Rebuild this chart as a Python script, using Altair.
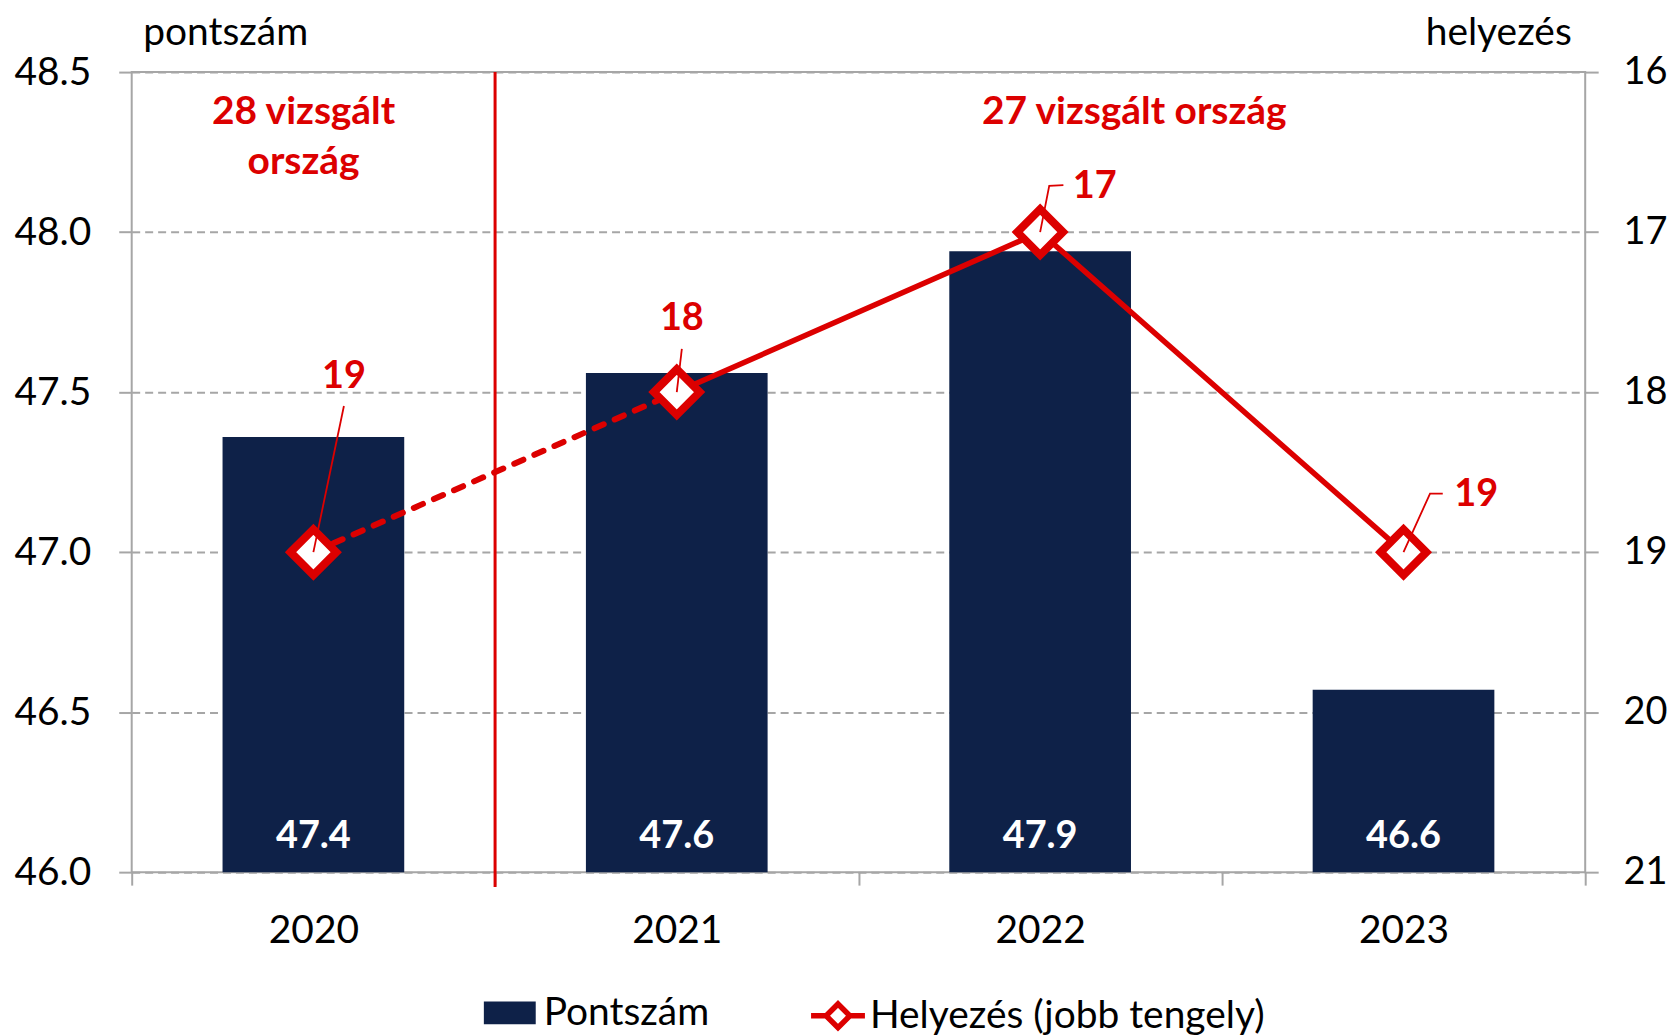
import altair as alt
import pandas as pd

# ---- data ----
years = [2020, 2021, 2022, 2023]
scores = [47.36, 47.56, 47.94, 46.57]
ranks = [19, 18, 17, 19]
bar_series = "Pontszám"
line_series = "Helyezés (jobb tengely)"
left_title = "pontszám"
right_title = "helyezés"

group_labels = ["28 vizsgált\nország", "27 vizsgált ország"]
group_label_x = [2019.973, 2022.259]
group_label_y = [48.338, 48.338]
divider_year = 2020.5

rank_label_x = [2020.084, 2021.014, 2022.15, 2023.20]
rank_label_y = [17.907, 17.542, 16.72, 18.644]

leader_id = [0, 0, 1, 1, 2, 2, 2, 3, 3, 3]
leader_x = [2020, 2020.084, 2021, 2021.014, 2022, 2022.025, 2022.064, 2023, 2023.073, 2023.108]
leader_y = [19, 18.087, 18, 17.73, 17, 16.711, 16.707, 19, 18.634, 18.634]

score_min, score_max, score_step = 46.0, 48.5, 0.5
rank_min, rank_max = 16, 21

# ---- styling ----
W, H = 1457, 802
FONT = "Lato"
NAVY = "#0E2148"
RED = "#DC0000"
GRAY = "#A6A6A6"
FS = 39
FSB = 38

df_bar = pd.DataFrame({"year": years, "score": scores, "series": bar_series})
df_dash = pd.DataFrame({"year": years[:2], "rank": ranks[:2]})
df_solid = pd.DataFrame({"year": years[1:], "rank": ranks[1:]})
df_pts = pd.DataFrame({"year": years, "rank": ranks, "series": line_series})
df_rlab = pd.DataFrame({"x": rank_label_x, "y": rank_label_y, "rank": ranks})
df_lead = pd.DataFrame({"id": leader_id, "x": leader_x, "y": leader_y,
                        "idx": list(range(len(leader_x)))})
df_grp = pd.DataFrame({"x": group_label_x, "y": group_label_y, "label": group_labels})
df_div = pd.DataFrame({"x": [divider_year]})

boundaries = [y - 0.5 for y in years] + [years[-1] + 0.5]
n_left = int(round((score_max - score_min) / score_step)) + 1
left_values = [score_min + score_step * i for i in range(n_left)]
right_values = list(range(rank_min, rank_max + 1))


def xs():
    return alt.Scale(domain=[boundaries[0], boundaries[-1]], nice=False, zero=False)


def ls():
    return alt.Scale(domain=[score_min, score_max], nice=False, zero=False)


def rs():
    return alt.Scale(domain=[rank_min, rank_max], reverse=True, nice=False, zero=False)


def x_axis():
    return alt.Axis(
        orient="bottom",
        values=boundaries,
        labelExpr=f"datum.value < {years[-1]} ? toString(datum.value + 0.5) : ''",
        labelOffset=W / len(years) / 2,
        tickSize=13, tickWidth=2, tickColor=GRAY, domain=False, grid=False,
        labelFont=FONT, labelFontSize=FS, labelColor="black",
        labelBaseline="alphabetic", labelPadding=58,
        labelFlush=False, labelOverlap=False, labelBound=False, title="",
    )


left_axis = alt.Axis(
    orient="left", values=left_values, format=".1f",
    tickSize=13, tickWidth=2, tickColor=GRAY, domain=False,
    grid=True, gridColor=GRAY, gridDash=[8, 5], gridWidth=2,
    labelFont=FONT, labelFontSize=FS, labelColor="black", labelPadding=28,
    title=left_title, titleAngle=0, titleAlign="left", titleBaseline="alphabetic",
    titleX=11, titleY=-28, titleFont=FONT, titleFontSize=FS,
    titleFontWeight="normal", titleColor="black",
)
right_axis = alt.Axis(
    orient="right", values=right_values, format="d",
    tickSize=13, tickWidth=2, tickColor=GRAY, domain=False, grid=False,
    labelFont=FONT, labelFontSize=38, labelColor="black", labelPadding=25,
    title=right_title, titleAngle=0, titleAlign="right", titleBaseline="alphabetic",
    titleX=-14, titleY=-28, titleFont=FONT, titleFontSize=FS,
    titleFontWeight="normal", titleColor="black",
)

legend_common = dict(orient="none", title=None, padding=0,
                     labelFont=FONT, labelFontSize=FS, labelColor="black",
                     labelLimit=0)

bars = alt.Chart(df_bar).transform_calculate(
    x0="datum.year - 0.25", x1="datum.year + 0.25", base=str(score_min)
).mark_bar().encode(
    x=alt.X("x0:Q", scale=xs(), axis=x_axis()),
    x2="x1:Q",
    y=alt.Y("score:Q", scale=ls(), axis=left_axis),
    y2="base:Q",
    fill=alt.Fill("series:N", scale=alt.Scale(domain=[bar_series], range=[NAVY]),
                  legend=alt.Legend(symbolType="M-1,-0.44H1V0.44H-1Z", symbolSize=2704,
                                    symbolStrokeWidth=0, labelOffset=8,
                                    legendX=353, legendY=917, **legend_common)),
)

dashed = alt.Chart(df_dash).mark_line(
    color=RED, strokeWidth=6, strokeDash=[10, 12], strokeCap="round"
).encode(
    x=alt.X("year:Q", scale=xs(), axis=x_axis()),
    y=alt.Y("rank:Q", scale=rs(), axis=right_axis),
)

bar_labels = alt.Chart(df_bar).transform_calculate(base=str(score_min)).mark_text(
    font=FONT, fontSize=FSB, fontWeight="bold", color="white",
    baseline="alphabetic", dy=-24,
).encode(
    x=alt.X("year:Q", scale=xs(), axis=x_axis()),
    y=alt.Y("base:Q", scale=ls(), axis=None),
    text=alt.Text("score:Q", format=".1f"),
)

grp_labels = alt.Chart(df_grp).mark_text(
    font=FONT, fontSize=39, fontWeight="bold", color=RED,
    baseline="alphabetic", align="center", lineBreak="\n", lineHeight=50,
).encode(
    x=alt.X("x:Q", scale=xs(), axis=x_axis()),
    y=alt.Y("y:Q", scale=ls(), axis=None),
    text="label:N",
)

divider = alt.Chart(df_div).mark_rule(color=RED, strokeWidth=3).encode(
    x=alt.X("x:Q", scale=xs(), axis=x_axis()),
    y=alt.value(0), y2=alt.value(H + 15),
)

solid = alt.Chart(df_solid).mark_line(color=RED, strokeWidth=5.5).encode(
    x=alt.X("year:Q", scale=xs(), axis=x_axis()),
    y=alt.Y("rank:Q", scale=rs(), axis=None),
)

points = alt.Chart(df_pts).mark_point(
    shape="diamond", filled=True, fill="white", size=2100, strokeWidth=8, opacity=1
).encode(
    x=alt.X("year:Q", scale=xs(), axis=x_axis()),
    y=alt.Y("rank:Q", scale=rs(), axis=None),
    stroke=alt.Stroke("series:N", scale=alt.Scale(domain=[line_series], range=[RED]),
                      legend=alt.Legend(
                          symbolType="M-1,0H-0.44M0.44,0H1M0,-0.44L0.44,0L0,0.44L-0.44,0Z",
                          symbolSize=2916, symbolStrokeWidth=5.5, symbolFillColor="white",
                          labelOffset=2, legendX=678, legendY=916, **legend_common)),
)

leaders = alt.Chart(df_lead).mark_line(color=RED, strokeWidth=1.8).encode(
    x=alt.X("x:Q", scale=xs(), axis=x_axis()),
    y=alt.Y("y:Q", scale=rs(), axis=None),
    detail="id:N",
    order="idx:Q",
)

rank_labels = alt.Chart(df_rlab).mark_text(
    font=FONT, fontSize=FSB, fontWeight="bold", color=RED, baseline="middle", align="center"
).encode(
    x=alt.X("x:Q", scale=xs(), axis=x_axis()),
    y=alt.Y("y:Q", scale=rs(), axis=None),
    text=alt.Text("rank:Q", format="d"),
)

chart = alt.layer(
    bars, dashed, bar_labels, grp_labels, divider, solid, points, leaders, rank_labels
).resolve_scale(y="independent").properties(
    width=W, height=H,
    background="white",
    autosize=alt.AutoSizeParams(type="none"),
    padding={"left": 124, "top": 63, "right": 84, "bottom": 162},
).configure_view(stroke=GRAY, strokeWidth=2)

chart.save("out.html", embed_options={"renderer": "svg", "actions": False})
